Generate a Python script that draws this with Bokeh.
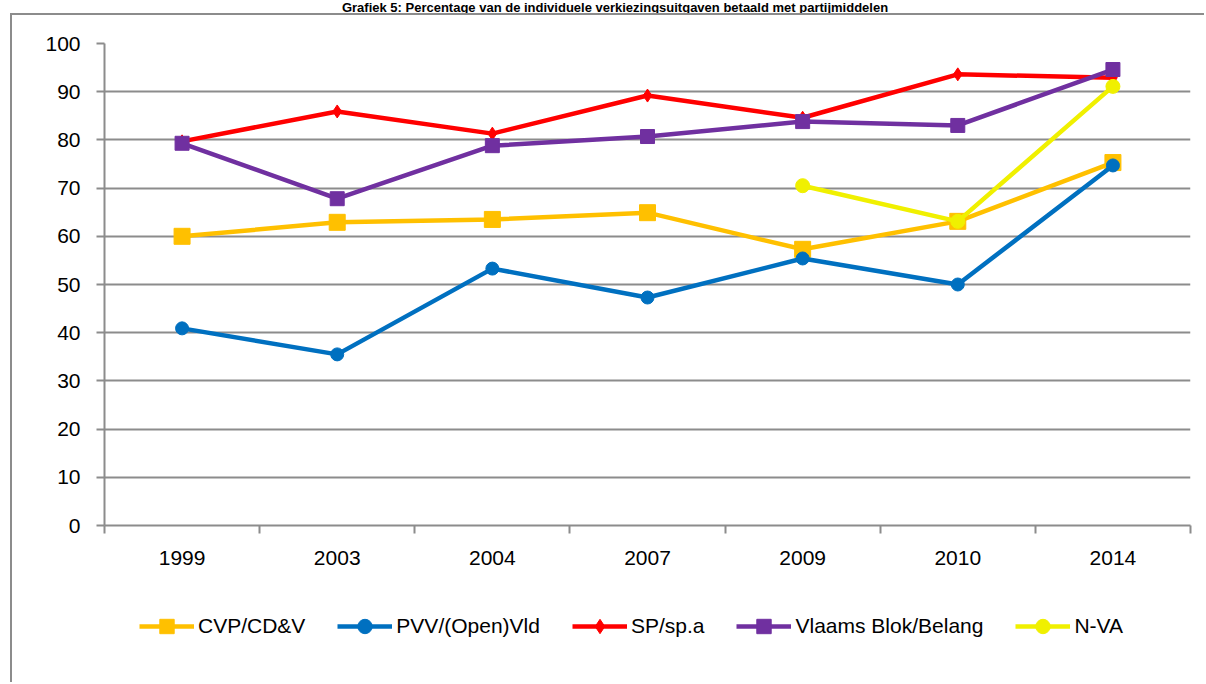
from bokeh.plotting import figure
from bokeh.layouts import column
from bokeh.models import Legend, LegendItem, FixedTicker, Range1d, Div
from bokeh.embed import file_html
from bokeh.resources import INLINE

# ---- data ----
years = ["1999", "2003", "2004", "2007", "2009", "2010", "2014"]
cvp = [60.0, 62.9, 63.5, 64.9, 57.3, 63.1, 75.3]
pvv = [40.9, 35.5, 53.3, 47.3, 55.4, 50.0, 74.7]
sp = [79.7, 85.9, 81.3, 89.2, 84.6, 93.6, 92.9]
vb = [79.3, 67.8, 78.8, 80.7, 83.8, 83.0, 94.6]
nva_years = ["2009", "2010", "2014"]
nva = [70.5, 63.1, 91.1]
y_ticks = list(range(0, 101, 10))
title_text = "Grafiek 5: Percentage van de individuele verkiezingsuitgaven betaald met partijmiddelen"

FONT = "Liberation Sans"
GRID = "#8c8c8c"
BORDER = "2px solid #8c8c8c"

def xpos(labels):
    return [years.index(l) + 0.5 for l in labels]

title = Div(text=f'<div style="font: bold 13px \'Liberation Sans\', sans-serif; line-height: 13px; '
                 f'text-align: center; width: 1230px; white-space: nowrap; color: black;">{title_text}</div>',
            width=1206, height=13, margin=0)

p = figure(width=1194, height=565, output_backend="svg", toolbar_location=None,
           x_range=Range1d(0, len(years)), y_range=Range1d(0, 100),
           min_border_left=92, min_border_right=16, min_border_top=28, min_border_bottom=55,
           margin=(0, 0, 0, 10),
           styles={"border-left": BORDER, "border-top": BORDER})
p.outline_line_color = None
p.background_fill_color = "white"

# axes / grid
p.xgrid.grid_line_color = None
p.ygrid.grid_line_color = GRID
p.ygrid.grid_line_width = 2
p.ygrid.ticker = FixedTicker(ticks=y_ticks)

p.yaxis.ticker = FixedTicker(ticks=y_ticks)
p.yaxis.axis_line_color = GRID
p.yaxis.axis_line_width = 2
p.yaxis.major_tick_line_color = GRID
p.yaxis.major_tick_line_width = 2
p.yaxis.major_tick_out = 8
p.yaxis.major_tick_in = 0
p.yaxis.minor_tick_line_color = None
p.yaxis.major_label_standoff = 16
p.yaxis.major_label_text_font = FONT
p.yaxis.major_label_text_font_size = "21px"
p.yaxis.major_label_text_color = "black"

centers = [i + 0.5 for i in range(len(years))]
p.xaxis.ticker = FixedTicker(ticks=centers, minor_ticks=list(range(len(years) + 1)))
p.xaxis.major_label_overrides = {c: y for c, y in zip(centers, years)}
p.xaxis.axis_line_color = GRID
p.xaxis.axis_line_width = 2
p.xaxis.major_tick_line_color = None
p.xaxis.minor_tick_line_color = GRID
p.xaxis.minor_tick_line_width = 2
p.xaxis.minor_tick_out = 8
p.xaxis.minor_tick_in = 0
p.xaxis.major_tick_out = 8
p.xaxis.major_label_standoff = 17
p.xaxis.major_label_text_font = FONT
p.xaxis.major_label_text_font_size = "21px"
p.xaxis.major_label_text_color = "black"

LW = 4.5
series = [
    ("CVP/CD&V", years, cvp, "#FFC000", "square", 16),
    ("PVV/(Open)Vld", years, pvv, "#0070C0", "circle", 13),
    ("SP/sp.a", years, sp, "#FF0000", "diamond", 13),
    ("Vlaams Blok/Belang", years, vb, "#7030A0", "square", 14),
    ("N-VA", nva_years, nva, "#F0F000", "circle", 14),
]

# legend figure (below the chart); its dummy renderers hold no visible data
pl = figure(width=1194, height=104, output_backend="svg", toolbar_location=None,
            x_range=Range1d(0, 1), y_range=Range1d(0, 1),
            min_border=0, margin=(0, 0, 0, 10), styles={"border-left": BORDER},
            x_axis_location=None, y_axis_location=None)
pl.outline_line_color = None
pl.grid.grid_line_color = None

NAN = float("nan")
items = []
for name, xs, ys, col, mk, sz in series:
    xx = xpos(xs)
    p.line(xx, ys, line_color=col, line_width=LW)
    p.scatter(xx, ys, marker=mk, size=sz, fill_color=col, line_color=col)
    lr = pl.line([NAN], [NAN], line_color=col, line_width=LW)
    sr = pl.scatter([NAN], [NAN], marker=mk, size=sz, fill_color=col, line_color=col)
    items.append(LegendItem(label=name, renderers=[lr, sr]))

legend = Legend(items=items, orientation="horizontal", location=(35, 38),
                label_text_font=FONT, label_text_font_size="21px", label_text_color="black",
                glyph_width=55, glyph_height=36, label_standoff=4, spacing=32,
                padding=0, margin=0, border_line_color=None, background_fill_alpha=0)
pl.add_layout(legend, "center")

layout = column(title, p, pl, margin=0, spacing=0)
open("out.html", "w").write(file_html(layout, INLINE))
